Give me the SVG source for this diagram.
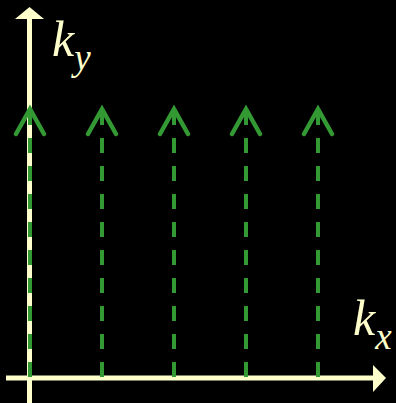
<svg xmlns="http://www.w3.org/2000/svg" width="396" height="403" viewBox="0 0 396 403">
<style>
.axis{stroke:#FFFFCC;stroke-width:5;fill:none}
.head{fill:#FFFFCC}
.line{stroke:#339933;stroke-width:4;stroke-dasharray:15 13;fill:none}
.chev{stroke:#339933;stroke-width:4.5;fill:none;stroke-linecap:round;stroke-linejoin:miter}
.lbl{font-family:"Liberation Serif","Times New Roman",serif;font-style:italic;fill:#FFFFCC}
</style>
<rect width="396" height="403" fill="#000"/>
<g id="axes">
<line class="axis" x1="29.5" y1="18" x2="29.5" y2="403"/>
<polygon class="head" points="29.5,7 44,19 15,19"/>
<line class="axis" x1="6" y1="378" x2="375" y2="378"/>
<polygon class="head" points="386,378 373,365 373,392"/>
</g>
<g id="connectors">
<g id="v1"><line class="line" x1="30" y1="110" x2="30" y2="377"/><polyline class="chev" points="16,134 30,109 44,134"/></g>
<g id="v2"><line class="line" x1="102" y1="110" x2="102" y2="377"/><polyline class="chev" points="88,134 102,109 116,134"/></g>
<g id="v3"><line class="line" x1="174" y1="110" x2="174" y2="377"/><polyline class="chev" points="160,134 174,109 188,134"/></g>
<g id="v4"><line class="line" x1="246" y1="110" x2="246" y2="377"/><polyline class="chev" points="232,134 246,109 260,134"/></g>
<g id="v5"><line class="line" x1="318" y1="110" x2="318" y2="377"/><polyline class="chev" points="304,134 318,109 332,134"/></g>
</g>
<g id="label-ky"><text class="lbl" x="52" y="56" font-size="50">k<tspan font-size="37" dy="14">y</tspan></text></g>
<g id="label-kx"><text class="lbl" x="353" y="335" font-size="50">k<tspan font-size="37" dy="14">x</tspan></text></g>
</svg>
